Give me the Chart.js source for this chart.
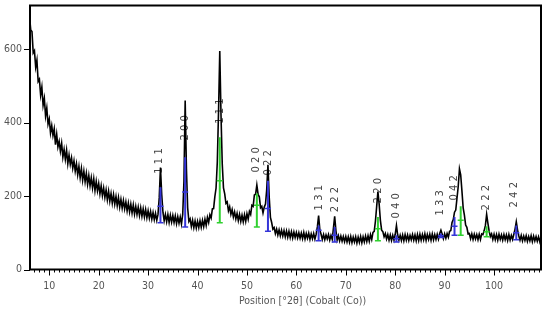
<!DOCTYPE html>
<html>
<head>
<meta charset="utf-8">
<script src="https://cdn.jsdelivr.net/npm/chart.js@4.4.1/dist/chart.umd.min.js"></script>
<style>
  body { margin: 0; background: #fff; }
  canvas { display: block; }
</style>
</head>
<body>
<canvas id="chart" width="550" height="311"></canvas>
<script>
// scan: 2theta from angleStart in steps of angleStep, counts
var angleStart = 6.0
var angleStep = 0.25
var counts = [
  690, 652, 648, 590, 596, 551, 570, 512, 518, 475, 497, 447, 466, 418, 440, 396,
  410, 372, 392, 365, 383, 340, 368, 334, 349, 322, 344, 306, 327, 300, 325, 288, 312, 286, 304, 276,
  296, 268, 288, 258, 281, 250, 275, 243, 268, 239, 262, 232, 256, 228, 250, 222, 247, 215, 240, 214,
  234, 206, 228, 201, 222, 196, 217, 190, 213, 186, 207, 181, 204, 178, 199, 174, 196, 170, 191, 167,
  188, 165, 184, 160, 181, 157, 178, 154, 176, 151, 172, 150, 170, 147, 168, 145, 165, 143, 163, 141,
  160, 140, 158, 137, 155, 136, 153, 134, 150, 195, 278, 205, 156, 133, 150, 130, 150, 128, 148, 129,
  147, 128, 146, 125, 144, 126, 143, 124, 150, 240, 460, 275, 168, 131, 138, 117, 134, 114, 132, 113,
  131, 114, 133, 115, 134, 117, 137, 120, 142, 128, 149, 140, 165, 166, 198, 222, 292, 430, 595, 420,
  288, 222, 206, 180, 184, 160, 171, 150, 163, 143, 157, 138, 153, 133, 150, 131, 148, 130, 149, 131,
  152, 137, 158, 150, 175, 172, 203, 205, 230, 205, 198, 168, 172, 154, 170, 178, 218, 285, 198, 142,
  128, 110, 114, 98, 110, 94, 108, 92, 107, 91, 106, 89, 105, 88, 104, 87, 103, 86, 102, 87,
  101, 86, 100, 85, 99, 84, 101, 83, 98, 85, 99, 82, 97, 84, 98, 83, 96, 116, 147, 108,
  96, 82, 95, 81, 94, 83, 95, 80, 93, 82, 113, 145, 106, 80, 92, 78, 91, 77, 90, 76,
  90, 75, 89, 74, 90, 73, 88, 75, 89, 72, 88, 74, 90, 73, 89, 75, 91, 76, 92, 77,
  95, 82, 101, 104, 132, 172, 212, 178, 134, 107, 103, 89, 98, 83, 95, 80, 94, 79, 93, 80,
  96, 120, 94, 80, 93, 79, 94, 78, 95, 80, 94, 79, 93, 81, 95, 80, 94, 78, 95, 79,
  96, 80, 95, 81, 97, 79, 95, 82, 96, 80, 97, 81, 95, 82, 96, 83, 98, 107, 97, 84,
  97, 85, 98, 88, 104, 106, 128, 136, 156, 162, 194, 226, 274, 258, 214, 168, 148, 121, 115, 97,
  98, 84, 97, 82, 96, 83, 95, 81, 96, 82, 97, 95, 106, 120, 150, 126, 105, 90, 97, 82,
  96, 81, 95, 80, 96, 82, 94, 80, 95, 81, 94, 79, 95, 80, 93, 82, 96, 110, 130, 108,
  92, 80, 93, 78, 91, 79, 92, 77, 90, 78, 92, 76, 91, 78, 90, 77, 89, 76, 90, 78
]

// reference sticks (bottom, middle tick, top)
var blueAngles = [32.5, 37.5, 54.25, 64.5, 67.75, 80.25, 89.25, 92.0, 104.5]
var blueLow    = [127, 116, 104, 78, 75, 75, 87, 93, 81]
var blueMid    = [172, 211, 166, 107, 93, 84, 92, 118, 100]
var blueHigh   = [224, 306, 242, 120, 116, 93, 98, 143, 120]

var greenAngles = [44.5, 52.0, 76.5, 93.25, 98.5]
var greenLow    = [127, 116, 78, 93, 89]
var greenMid    = [242, 175, 111, 134, 103]
var greenHigh   = [360, 207, 143, 172, 118]

// hkl labels, written upward starting at hklHeight
var hklText   = ['1 1 1', '2 0 0', '1 1 1', '0 2 0', '0 2 2', '1 3 1', '2 2 2', '2 2 0', '0 4 0', '1 3 3', '0 4 2', '2 2 2', '2 4 2']
var hklAngle  = [32.2, 37.5, 44.55, 51.95, 54.3, 64.6, 67.8, 76.5, 80.2, 89.2, 92.0, 98.5, 104.2]
var hklHeight = [261, 351, 397, 264, 256, 161, 156, 180, 139, 147, 188, 161, 169]

var xTickValues = [10, 20, 30, 40, 50, 60, 70, 80, 90, 100]
var yTickValues = [0, 200, 400, 600]
var xTitle = 'Position [°2θ] (Cobalt (Co))'

var scan = counts.map(function (c, i) { return { x: angleStart + i * angleStep, y: c } })

function sticks(angles, low, mid, high) {
    var pts = []
    for (let i = 0; i < angles.length; i++) {
        pts.push({ x: angles[i], y: low[i] })
        pts.push({ x: angles[i], y: mid[i] })
        pts.push({ x: angles[i], y: high[i] })
        pts.push({ x: angles[i], y: null })
    }
    return pts
}

function stickSet(pts, color) {
    return {
        data: pts,
        borderColor: color,
        backgroundColor: color,
        borderWidth: 2,
        showLine: true,
        spanGaps: false,
        pointStyle: 'line',
        pointBorderWidth: 1.5,
        pointRadius: function (c) { return c.dataIndex % 4 < 2 ? 3 : 0 },
        order: 0
    }
}

var labelFont = '"Liberation Sans Narrow", "DejaVu Sans Condensed", "Liberation Sans", sans-serif'

var decor = {
    id: 'decor',
    beforeDatasetsDraw: function (chart) {
        var ctx = chart.ctx, a = chart.chartArea
        var xs = chart.scales.x, ys = chart.scales.y
        ctx.save()
        ctx.beginPath()
        ctx.rect(a.left, a.top, a.right - a.left, a.bottom - a.top)
        ctx.clip()
        ctx.fillStyle = '#444'
        ctx.font = '10px "DejaVu Sans"'
        ctx.textAlign = 'left'
        ctx.textBaseline = 'middle'
        for (let i = 0; i < hklText.length; i++) {
            ctx.save()
            ctx.translate(xs.getPixelForValue(hklAngle[i]), ys.getPixelForValue(hklHeight[i]))
            ctx.rotate(-Math.PI / 2)
            ctx.fillText(hklText[i], 0, 0)
            ctx.restore()
        }
        ctx.restore()
    },
    afterDraw: function (chart) {
        var ctx = chart.ctx, a = chart.chartArea
        var xs = chart.scales.x, ys = chart.scales.y
        ctx.save()
        // frame
        ctx.strokeStyle = '#000'
        ctx.lineWidth = 2
        ctx.strokeRect(a.left, a.top, a.right - a.left, a.bottom - a.top)
        // x ticks, minor every degree
        ctx.lineWidth = 1
        ctx.beginPath()
        for (let v = Math.ceil(xs.min); v <= xs.max; v++) {
            var px = Math.round(xs.getPixelForValue(v)) + 0.5
            ctx.moveTo(px, a.bottom)
            ctx.lineTo(px, a.bottom + (v % 10 === 0 ? 6 : 3))
        }
        // y ticks
        yTickValues.forEach(function (v) {
            var py = Math.round(ys.getPixelForValue(v)) + 0.5
            ctx.moveTo(a.left - 6, py)
            ctx.lineTo(a.left, py)
        })
        ctx.stroke()
        // axis title
        ctx.fillStyle = '#555'
        ctx.font = '10.5px ' + labelFont
        ctx.textAlign = 'center'
        ctx.textBaseline = 'middle'
        ctx.fillText(xTitle, (a.left + a.right) / 2 + 17, 301)
        ctx.restore()
    }
}

Chart.defaults.font.family = labelFont
Chart.defaults.font.size = 10.5
Chart.defaults.color = '#555'

var canvas = document.getElementById('chart').getContext('2d')
window.xrd = new Chart(canvas, {
    type: 'scatter',
    data: {
        datasets: [
            stickSet(sticks(blueAngles, blueLow, blueMid, blueHigh), '#3535d8'),
            stickSet(sticks(greenAngles, greenLow, greenMid, greenHigh), '#2fd02f'),
            {
                data: scan,
                showLine: true,
                borderColor: '#000',
                borderWidth: 1.6,
                pointRadius: 0,
                tension: 0,
                order: 1
            }
        ]
    },
    options: {
        responsive: false,
        animation: false,
        layout: { padding: { top: 4.5, right: 9, left: 0, bottom: 0 } },
        plugins: {
            legend: { display: false },
            tooltip: { enabled: false }
        },
        scales: {
            x: {
                type: 'linear',
                min: 6.1,
                max: 109.5,
                afterBuildTicks: function (s) { s.ticks = xTickValues.map(function (v) { return { value: v } }) },
                afterFit: function (s) { s.height = 41.5; s.paddingLeft = 0; s.paddingRight = 0 },
                grid: { display: false, drawTicks: false },
                border: { display: false },
                ticks: { padding: 10, maxRotation: 0, autoSkip: false }
            },
            y: {
                min: 0,
                max: 719,
                afterBuildTicks: function (s) { s.ticks = yTickValues.map(function (v) { return { value: v } }) },
                afterFit: function (s) { s.width = 30; s.paddingTop = 0; s.paddingBottom = 0 },
                grid: { display: false, drawTicks: false },
                border: { display: false },
                ticks: { padding: 8 }
            }
        }
    },
    plugins: [decor]
})
</script>
</body>
</html>
